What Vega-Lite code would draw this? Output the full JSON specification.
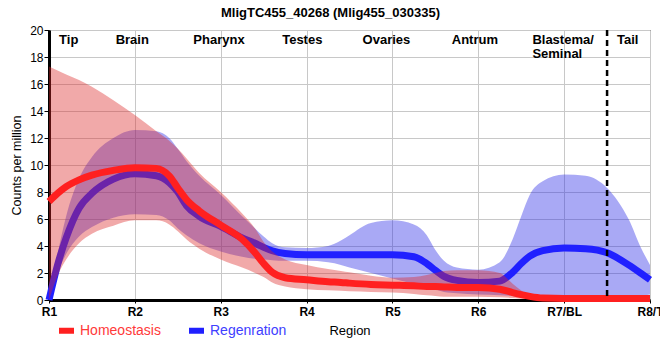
{
  "$schema": "https://vega.github.io/schema/vega-lite/v6.json",
  "autosize": "none",
  "width": 601,
  "height": 270,
  "padding": {"left": 49, "top": 30, "right": 10, "bottom": 60},
  "background": "white",
  "title": {"text": "MligTC455_40268 (Mlig455_030335)", "font": "Liberation Sans", "fontSize": 13, "fontWeight": "bold", "color": "black", "offset": 4, "dx": -19},
  "config": {
    "view": {"stroke": "black", "strokeWidth": 1},
    "axis": {"gridColor": "#c8c8c8", "gridWidth": 1, "gridOpacity": 1, "domainColor": "black", "domainWidth": 3, "tickColor": "black", "labelColor": "black", "titleColor": "black", "labelFont": "Liberation Sans", "titleFont": "Liberation Sans", "titleFontWeight": "normal"},
    "axisY": {"labelOverlap": false, "labelFontSize": 12, "labelPadding": 1, "tickSize": 5, "tickWidth": 1, "titleFontSize": 12.5, "titlePadding": 6}
  },
  "datasets": {
    "curves": [
      {"x": 1, "Rm": 7.3, "Rlo": 0, "Rhi": 17.3, "Bm": 0, "Blo": 0, "Bhi": 0},
      {"x": 1.1, "Rm": 7.9, "Rlo": 1.8, "Rhi": 17.0, "Bm": 2.6, "Blo": 2.0, "Bhi": 3.4},
      {"x": 1.2, "Rm": 8.4, "Rlo": 3.0, "Rhi": 16.7, "Bm": 4.6, "Blo": 3.4, "Bhi": 6.2},
      {"x": 1.35, "Rm": 8.9, "Rlo": 4.2, "Rhi": 16.3, "Bm": 6.8, "Blo": 4.7, "Bhi": 9.0},
      {"x": 1.5, "Rm": 9.25, "Rlo": 4.9, "Rhi": 15.8, "Bm": 7.9, "Blo": 5.4, "Bhi": 10.6},
      {"x": 1.75, "Rm": 9.6, "Rlo": 5.5, "Rhi": 14.8, "Bm": 8.95, "Blo": 6.1, "Bhi": 12.0},
      {"x": 2, "Rm": 9.8, "Rlo": 5.9, "Rhi": 13.7, "Bm": 9.35, "Blo": 6.35, "Bhi": 12.6},
      {"x": 2.25, "Rm": 9.75, "Rlo": 5.9, "Rhi": 12.5, "Bm": 9.2, "Blo": 6.3, "Bhi": 12.5},
      {"x": 2.4, "Rm": 9.2, "Rlo": 5.6, "Rhi": 11.8, "Bm": 8.7, "Blo": 5.9, "Bhi": 12.0},
      {"x": 2.5, "Rm": 8.3, "Rlo": 5.1, "Rhi": 11.2, "Bm": 8.0, "Blo": 5.3, "Bhi": 11.2},
      {"x": 2.6, "Rm": 7.45, "Rlo": 4.5, "Rhi": 10.5, "Bm": 7.0, "Blo": 4.8, "Bhi": 10.3},
      {"x": 2.75, "Rm": 6.6, "Rlo": 3.8, "Rhi": 9.4, "Bm": 6.2, "Blo": 4.2, "Bhi": 9.2},
      {"x": 3, "Rm": 5.55, "Rlo": 3.0, "Rhi": 8.0, "Bm": 5.45, "Blo": 3.6, "Bhi": 7.8},
      {"x": 3.25, "Rm": 4.5, "Rlo": 2.4, "Rhi": 6.4, "Bm": 4.6, "Blo": 3.2, "Bhi": 6.2},
      {"x": 3.4, "Rm": 3.5, "Rlo": 2.0, "Rhi": 5.3, "Bm": 4.2, "Blo": 3.05, "Bhi": 5.3},
      {"x": 3.5, "Rm": 2.7, "Rlo": 1.7, "Rhi": 4.3, "Bm": 3.9, "Blo": 3.0, "Bhi": 4.7},
      {"x": 3.6, "Rm": 2.05, "Rlo": 1.3, "Rhi": 3.6, "Bm": 3.65, "Blo": 2.95, "Bhi": 4.2},
      {"x": 3.75, "Rm": 1.65, "Rlo": 1.0, "Rhi": 3.0, "Bm": 3.45, "Blo": 2.9, "Bhi": 3.9},
      {"x": 4, "Rm": 1.5, "Rlo": 0.8, "Rhi": 2.6, "Bm": 3.35, "Blo": 2.9, "Bhi": 3.85},
      {"x": 4.25, "Rm": 1.35, "Rlo": 0.72, "Rhi": 2.3, "Bm": 3.35, "Blo": 2.8, "Bhi": 4.0},
      {"x": 4.4, "Rm": 1.3, "Rlo": 0.68, "Rhi": 2.15, "Bm": 3.35, "Blo": 2.6, "Bhi": 4.4},
      {"x": 4.5, "Rm": 1.25, "Rlo": 0.65, "Rhi": 2.05, "Bm": 3.35, "Blo": 2.4, "Bhi": 4.8},
      {"x": 4.75, "Rm": 1.15, "Rlo": 0.6, "Rhi": 1.8, "Bm": 3.35, "Blo": 2.0, "Bhi": 5.7},
      {"x": 5, "Rm": 1.1, "Rlo": 0.55, "Rhi": 1.65, "Bm": 3.35, "Blo": 1.6, "Bhi": 5.9},
      {"x": 5.25, "Rm": 1.05, "Rlo": 0.45, "Rhi": 1.7, "Bm": 3.2, "Blo": 1.2, "Bhi": 5.6},
      {"x": 5.4, "Rm": 1.0, "Rlo": 0.35, "Rhi": 1.85, "Bm": 2.7, "Blo": 1.0, "Bhi": 4.8},
      {"x": 5.5, "Rm": 1.0, "Rlo": 0.3, "Rhi": 2.0, "Bm": 2.2, "Blo": 0.8, "Bhi": 3.7},
      {"x": 5.6, "Rm": 0.97, "Rlo": 0.25, "Rhi": 2.15, "Bm": 1.75, "Blo": 0.6, "Bhi": 2.9},
      {"x": 5.75, "Rm": 0.93, "Rlo": 0.25, "Rhi": 2.2, "Bm": 1.45, "Blo": 0.5, "Bhi": 2.4},
      {"x": 6, "Rm": 0.92, "Rlo": 0.25, "Rhi": 2.2, "Bm": 1.3, "Blo": 0.4, "Bhi": 2.25},
      {"x": 6.25, "Rm": 0.8, "Rlo": 0.2, "Rhi": 2.0, "Bm": 1.4, "Blo": 0.35, "Bhi": 2.8},
      {"x": 6.4, "Rm": 0.55, "Rlo": 0.15, "Rhi": 1.2, "Bm": 2.05, "Blo": 0.3, "Bhi": 4.5},
      {"x": 6.5, "Rm": 0.4, "Rlo": 0.1, "Rhi": 0.7, "Bm": 2.7, "Blo": 0.2, "Bhi": 6.2},
      {"x": 6.6, "Rm": 0.27, "Rlo": 0.05, "Rhi": 0.35, "Bm": 3.25, "Blo": 0.15, "Bhi": 7.8},
      {"x": 6.75, "Rm": 0.15, "Rlo": 0.02, "Rhi": 0.2, "Bm": 3.65, "Blo": 0.1, "Bhi": 8.8},
      {"x": 7, "Rm": 0.12, "Rlo": 0.02, "Rhi": 0.15, "Bm": 3.85, "Blo": 0.1, "Bhi": 9.3},
      {"x": 7.25, "Rm": 0.12, "Rlo": 0.02, "Rhi": 0.15, "Bm": 3.8, "Blo": 0.1, "Bhi": 9.2},
      {"x": 7.5, "Rm": 0.12, "Rlo": 0.02, "Rhi": 0.15, "Bm": 3.5, "Blo": 0.12, "Bhi": 8.3},
      {"x": 7.75, "Rm": 0.12, "Rlo": 0.02, "Rhi": 0.15, "Bm": 2.6, "Blo": 0.2, "Bhi": 6.0},
      {"x": 7.9, "Rm": 0.12, "Rlo": 0.02, "Rhi": 0.15, "Bm": 1.95, "Blo": 0.3, "Bhi": 3.8},
      {"x": 8, "Rm": 0.12, "Rlo": 0.02, "Rhi": 0.15, "Bm": 1.5, "Blo": 0.4, "Bhi": 2.6}
    ],
    "regions": [
      {"name": "Tip", "x": 1.23, "y": 18.96},
      {"name": "Brain", "x": 1.97, "y": 18.96},
      {"name": "Pharynx", "x": 2.98, "y": 18.96},
      {"name": "Testes", "x": 3.95, "y": 18.96},
      {"name": "Ovaries", "x": 4.93, "y": 18.96},
      {"name": "Antrum", "x": 5.96, "y": 18.96},
      {"name": "Tail", "x": 7.74, "y": 18.96}
    ],
    "regions2": [
      {"name": "Blastema/\nSeminal", "x": 6.63, "y": 18.96}
    ],
    "divider": [{"x": 7.5}]
  },
  "data": {"name": "curves"},
  "encoding": {
    "x": {"field": "x", "type": "quantitative", "scale": {"domain": [1, 8], "nice": false, "zero": false},
      "axis": {"title": "Region", "titleFontSize": 13, "titlePadding": 7, "values": [1, 2, 3, 4, 5, 6, 7, 8], "labelExpr": "['R1','R2','R3','R4','R5','R6','R7/BL','R8/T'][datum.value - 1]", "labelFontSize": 12, "labelFontWeight": "bold", "labelPadding": 3, "tickSize": 3, "labelOverlap": false, "labelBound": false, "labelFlush": false}}
  },
  "layer": [
    {
      "mark": {"type": "area", "interpolate": "monotone", "color": "#2828e6", "opacity": 0.4},
      "encoding": {
        "y": {"field": "Bhi", "type": "quantitative", "scale": {"domain": [0, 20], "nice": false},
          "axis": {"title": "Counts per million", "values": [0, 2, 4, 6, 8, 10, 12, 14, 16, 18, 20]}},
        "y2": {"field": "Blo"}
      }
    },
    {
      "transform": [{"calculate": "'Regenration'", "as": "series"}],
      "mark": {"type": "line", "interpolate": "monotone", "strokeWidth": 7, "strokeCap": "butt"},
      "encoding": {
        "y": {"field": "Bm", "type": "quantitative", "scale": {"domain": [0, 20], "nice": false},
          "axis": {"title": "Counts per million", "values": [0, 2, 4, 6, 8, 10, 12, 14, 16, 18, 20]}},
        "color": {"field": "series", "type": "nominal",
          "scale": {"domain": ["Homeostasis", "Regenration"], "range": ["#ff2020", "#2020ff"]},
          "legend": {"title": null, "orient": "none", "legendX": 7, "legendY": 290, "direction": "horizontal", "symbolType": "stroke", "symbolStrokeWidth": 6, "symbolSize": 225, "labelFontSize": 14, "labelFont": "Liberation Sans", "columnPadding": 16, "labelOffset": 3, "padding": 0,
            "encode": {"labels": {"update": {"fill": {"signal": "datum.value === 'Homeostasis' ? '#ff3a3a' : '#4040ff'"}}}}}
        }
      }
    },
    {
      "mark": {"type": "area", "interpolate": "monotone", "color": "#dc2828", "opacity": 0.4},
      "encoding": {
        "y": {"field": "Rhi", "type": "quantitative", "scale": {"domain": [0, 20], "nice": false},
          "axis": {"title": "Counts per million", "values": [0, 2, 4, 6, 8, 10, 12, 14, 16, 18, 20]}},
        "y2": {"field": "Rlo"}
      }
    },
    {
      "transform": [{"calculate": "'Homeostasis'", "as": "series"}],
      "mark": {"type": "line", "interpolate": "monotone", "strokeWidth": 7, "strokeCap": "butt"},
      "encoding": {
        "y": {"field": "Rm", "type": "quantitative", "scale": {"domain": [0, 20], "nice": false},
          "axis": {"title": "Counts per million", "values": [0, 2, 4, 6, 8, 10, 12, 14, 16, 18, 20]}},
        "color": {"field": "series", "type": "nominal"}
      }
    },
    {
      "data": {"name": "divider"},
      "mark": {"type": "rule", "color": "black", "strokeWidth": 2.5, "strokeDash": [6, 4]},
      "encoding": {"x": {"field": "x", "type": "quantitative"}}
    },
    {
      "data": {"name": "regions"},
      "mark": {"type": "text", "font": "Liberation Sans", "fontSize": 13, "fontWeight": "bold", "color": "black", "align": "center", "baseline": "alphabetic"},
      "encoding": {
        "x": {"field": "x", "type": "quantitative"},
        "y": {"field": "y", "type": "quantitative", "scale": {"domain": [0, 20], "nice": false},
          "axis": {"title": "Counts per million", "values": [0, 2, 4, 6, 8, 10, 12, 14, 16, 18, 20]}},
        "text": {"field": "name"}
      }
    },
    {
      "data": {"name": "regions2"},
      "mark": {"type": "text", "font": "Liberation Sans", "fontSize": 13, "fontWeight": "bold", "color": "black", "align": "left", "baseline": "alphabetic", "lineBreak": "\n", "lineHeight": 14},
      "encoding": {
        "x": {"field": "x", "type": "quantitative"},
        "y": {"field": "y", "type": "quantitative", "scale": {"domain": [0, 20], "nice": false},
          "axis": {"title": "Counts per million", "values": [0, 2, 4, 6, 8, 10, 12, 14, 16, 18, 20]}},
        "text": {"field": "name"}
      }
    }
  ]
}
